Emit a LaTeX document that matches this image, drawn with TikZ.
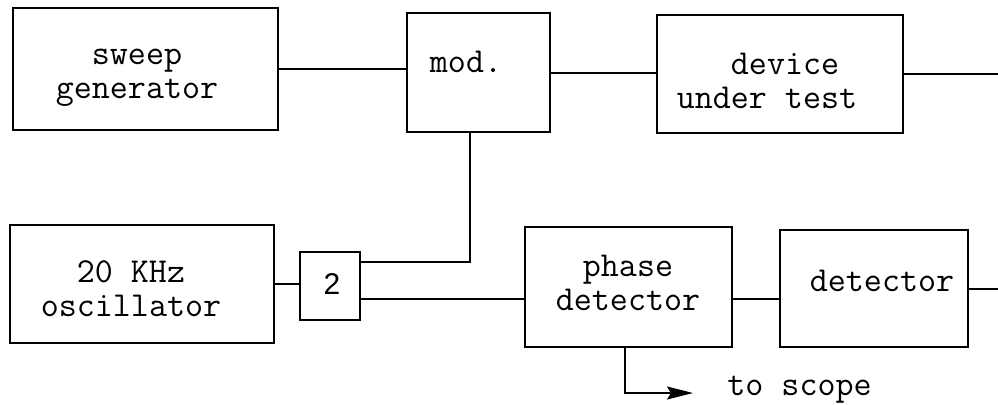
\documentclass[tikz,border=0pt]{standalone}
\usepackage{fontspec}
\newfontfamily\numfont{Liberation Sans}
\usetikzlibrary{arrows.meta}
\begin{document}
\begin{tikzpicture}[x=0.5pt,y=-0.5pt,
  box/.style={draw, line width=1.1pt, inner sep=0pt},
  lbl/.style={font=\ttfamily\fontsize{17.5}{17}\selectfont, align=center, inner sep=0pt},
  wire/.style={line width=1pt}]
\useasboundingbox (0,0) rectangle (998,404);
% boxes
\node[box, minimum width=132.5pt, minimum height=61pt] (sweep) at (145.5,69) {};
\node[box, minimum width=71.5pt, minimum height=59.5pt] (mod) at (478.5,72.5) {};
\node[box, minimum width=123pt, minimum height=59pt] (dut) at (780,74) {};
\node[box, minimum width=132pt, minimum height=59pt] (osc) at (142,284) {};
\node[box, minimum width=30pt, minimum height=34pt] (two) at (330,286) {};
\node[box, minimum width=103.5pt, minimum height=60pt] (pd) at (628.5,287) {};
\node[box, minimum width=94pt, minimum height=58.5pt] (det) at (874,288.5) {};
% labels
\node[lbl] (tsweep) at (137,78) {sweep\\generator};
\node[lbl] (tmod) at (466,62) {mod.};
\node[lbl] (tdut) at (767,81) {\hphantom{xx}device\\under test};
\node[lbl] (tosc) at (131,289) {20 KHz\\oscillator};
\node[inner sep=0pt, font=\numfont\fontsize{15}{16}\selectfont] (ttwo) at (332,284) {2};
\node[lbl] (tpd) at (628,283) {phase\\detector};
\node[lbl] (tdet) at (882,281) {detector};
\node[lbl, anchor=base west] (tscope) at (727,395) {to scope};
% coordinates
\coordinate (out1) at (998,75);
\coordinate (out2) at (998,287);
\coordinate (m1) at (470,262);
\coordinate (m2) at (0,299);
\coordinate (scope) at (693,393);
\coordinate (pdx) at (625,0);
% wires
\draw[wire] (sweep.east) -- (sweep.east -| mod.west);
\draw[wire] (mod.east) -- (mod.east -| dut.west);
\draw[wire] (dut.east) -- (dut.east -| out1);
\draw[wire] (m1 |- mod.south) |- (two.east |- m1);
\draw[wire] (osc.east) -- (osc.east -| two.west);
\draw[wire] (two.east |- m2) -- (pd.west |- m2);
\draw[wire] (pd.east |- m2) -- (det.west |- m2);
\draw[wire] (det.east) -- (det.east -| out2);
\draw[wire, -{Stealth[length=13pt,width=6.5pt,inset=2pt]}] (pdx |- pd.south) |- (scope);
\end{tikzpicture}
\end{document}
